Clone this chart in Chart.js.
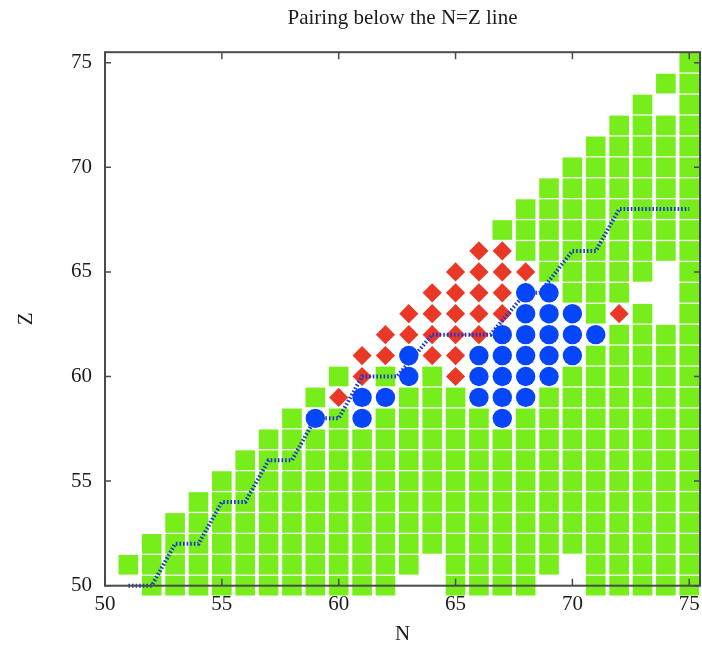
<!DOCTYPE html>
<html>
<head>
<meta charset="utf-8">
<title>Pairing below the N=Z line</title>
<script src="https://cdn.jsdelivr.net/npm/chart.js@4/dist/chart.umd.min.js"></script>
<style>
  html, body { margin: 0; padding: 0; background: #fff; }
  canvas { display: block; }
</style>
</head>
<body>
<canvas id="chart" width="702" height="652"></canvas>
<script>
// Columns of squares: neutron number N, lowest and highest Z filled
const columnN = [51, 52, 53, 54, 55, 56, 57, 58, 59, 60, 61, 62, 63, 64, 65, 66, 67, 68, 69, 70, 71, 72, 73, 74, 75];
const lowZ    = [51, 50, 50, 50, 50, 50, 50, 50, 50, 50, 50, 50, 51, 52, 50, 50, 50, 50, 51, 52, 50, 50, 50, 50, 50];
const highZ   = [51, 52, 53, 54, 55, 56, 57, 58, 59, 60, 61, 62, 63, 64, 65, 66, 67, 68, 69, 70, 71, 72, 73, 74, 75];

// Cells inside a column that are left blank
const emptyN = [73, 74, 74, 74, 74];
const emptyZ = [64, 63, 64, 65, 73];

// Red diamonds
const redN = [66, 67, 65, 66, 67, 68, 64, 65, 66, 67, 63, 64, 65, 66, 67, 72, 62, 63, 64, 65, 66, 61, 62, 64, 65, 61, 65, 60];
const redZ = [66, 66, 65, 65, 65, 65, 64, 64, 64, 64, 63, 63, 63, 63, 63, 63, 62, 62, 62, 62, 62, 61, 61, 61, 61, 60, 60, 59];

// Blue circles
const blueN = [68, 69, 68, 69, 70, 67, 68, 69, 70, 71, 63, 66, 67, 68, 69, 70, 63, 66, 67, 68, 69, 61, 62, 66, 67, 68, 59, 61, 67];
const blueZ = [64, 64, 63, 63, 63, 62, 62, 62, 62, 62, 61, 61, 61, 61, 61, 61, 60, 60, 60, 60, 60, 59, 59, 59, 59, 59, 58, 58, 58];

// Dotted staircase line
const lineN = [51, 52, 53, 54, 55, 56, 57, 58, 59, 60, 61, 62.5, 64, 66.5, 68, 68.6, 70, 71, 72, 75];
const lineZ = [50, 50, 52, 52, 54, 54, 56, 56, 58, 58, 60, 60, 62, 62, 64, 64, 66, 66, 68, 68];

// Tick labels
const xTicks = [50, 55, 60, 65, 70, 75];
const yTicks = [50, 55, 60, 65, 70, 75];

const serif = "'Liberation Serif', 'Times New Roman', serif";
const textColor = '#1c1c1c';

// which cells are taken by markers or left blank
const taken = new Set();
const key = (n, z) => n + ':' + z;
redN.forEach((n, i) => taken.add(key(n, redZ[i])));
blueN.forEach((n, i) => taken.add(key(n, blueZ[i])));
emptyN.forEach((n, i) => taken.add(key(n, emptyZ[i])));

const greenPoints = [];
columnN.forEach((n, i) => {
    for (let z = lowZ[i]; z <= highZ[i]; z++) {
        if (!taken.has(key(n, z))) greenPoints.push({ x: n, y: z });
    }
});
const redPoints = redN.map((n, i) => ({ x: n, y: redZ[i] }));
const bluePoints = blueN.map((n, i) => ({ x: n, y: blueZ[i] }));
const linePoints = lineN.map((n, i) => ({ x: n, y: lineZ[i] }));

// Frame with inward ticks, drawn over the data like the original
const framePlugin = {
    id: 'frame',
    afterDatasetsDraw(chart) {
        const { ctx, chartArea: a, scales: { x, y } } = chart;
        ctx.save();
        ctx.strokeStyle = '#4a4a4a';
        ctx.lineWidth = 2;
        ctx.strokeRect(a.left, a.top, a.right - a.left, a.bottom - a.top);
        ctx.lineWidth = 1.5;
        ctx.beginPath();
        xTicks.forEach(v => {
            const px = x.getPixelForValue(v);
            ctx.moveTo(px, a.bottom); ctx.lineTo(px, a.bottom - 7);
            ctx.moveTo(px, a.top); ctx.lineTo(px, a.top + 7);
        });
        yTicks.forEach(v => {
            const py = y.getPixelForValue(v);
            ctx.moveTo(a.left, py); ctx.lineTo(a.left + 6, py);
            ctx.moveTo(a.right, py); ctx.lineTo(a.right - 6, py);
        });
        ctx.stroke();
        ctx.restore();
    }
};

const ctx = document.getElementById('chart').getContext('2d');
new Chart(ctx, {
    type: 'scatter',
    data: {
        datasets: [
            {
                label: 'blue',
                data: bluePoints,
                pointStyle: 'circle',
                pointRadius: 9.7,
                backgroundColor: '#0646fa',
                borderWidth: 0,
                clip: false
            },
            {
                label: 'line',
                data: linePoints,
                showLine: true,
                pointRadius: 0,
                borderColor: '#1c36d0',
                borderWidth: 4,
                borderDash: [1.6, 2],
                fill: false,
                clip: false
            },
            {
                label: 'red',
                data: redPoints,
                pointStyle: 'rectRot',
                pointRadius: 9.6,
                backgroundColor: '#ea3826',
                borderWidth: 0,
                clip: false
            },
            {
                label: 'green',
                data: greenPoints,
                pointStyle: 'rect',
                pointRadius: 13.9,
                backgroundColor: '#77ee1b',
                borderWidth: 0,
                clip: false
            }
        ]
    },
    options: {
        responsive: false,
        animation: false,
        events: [],
        layout: { autoPadding: false, padding: { left: 0, right: 2, top: 0, bottom: 0 } },
        plugins: {
            legend: { display: false },
            tooltip: { enabled: false },
            title: {
                display: true,
                text: 'Pairing below the N=Z line',
                color: textColor,
                fullSize: false,
                font: { family: serif, size: 21, weight: 'normal' },
                padding: { top: 6, bottom: 21 }
            }
        },
        scales: {
            x: {
                type: 'linear',
                min: 50,
                max: 75.46,
                grid: { display: false, drawTicks: false },
                border: { display: false },
                afterBuildTicks: s => { s.ticks = xTicks.map(v => ({ value: v })); },
                afterFit: s => { s.height = 66.3; s.paddingLeft = 0; s.paddingRight = 0; },
                ticks: { color: textColor, padding: 6, font: { family: serif, size: 21 } },
                title: {
                    display: true,
                    text: 'N',
                    color: textColor,
                    font: { family: serif, size: 21 },
                    padding: { top: 0, bottom: 5 }
                }
            },
            y: {
                type: 'linear',
                min: 50,
                max: 75.5,
                grid: { display: false, drawTicks: false },
                border: { display: false },
                afterBuildTicks: s => { s.ticks = yTicks.map(v => ({ value: v })); },
                afterFit: s => { s.width = 105; s.paddingTop = 0; s.paddingBottom = 0; },
                ticks: { color: textColor, padding: 13, font: { family: serif, size: 21 } },
                title: {
                    display: true,
                    text: 'Z',
                    color: textColor,
                    font: { family: serif, size: 21 },
                    padding: { top: 14, bottom: 0 }
                }
            }
        }
    },
    plugins: [framePlugin]
});
</script>
</body>
</html>
